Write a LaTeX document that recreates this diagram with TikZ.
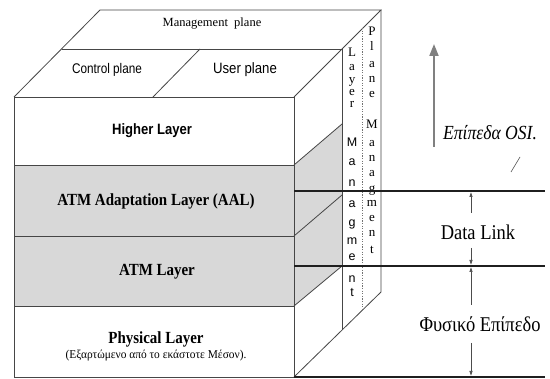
\documentclass[tikz,border=0pt]{standalone}
\usepackage{fontspec}
\usepackage{graphicx}
\setmainfont{Liberation Serif}
\setsansfont{Liberation Sans}
\usetikzlibrary{arrows.meta}

\definecolor{layergray}{RGB}{216,216,216}
\definecolor{edgecol}{RGB}{70,70,70}
\newcommand\squeeze[2]{\scalebox{#1}[1]{#2}}
\newcommand\fs[1]{\fontsize{#1}{#1}\selectfont}

\begin{document}
\begin{tikzpicture}[x=1pt,y=-1pt,
  edge/.style={draw=edgecol,line width=0.8pt},
  osiline/.style={draw=black!88,line width=1.8pt},
  gaparrow/.style={draw=black!70,line width=0.6pt,-{Latex[length=5pt,width=3.5pt]}},
  letter/.style={inner sep=0pt,text height=8pt,text depth=0pt},
  lbl/.style={inner sep=0pt}
]
\useasboundingbox (0,0) rectangle (550,379);
\fill[white] (0,0) rectangle (550,379);

% cube corners
\coordinate (FTL) at (14,97);
\coordinate (FTR) at (294,97);
\coordinate (FBL) at (14,377);
\coordinate (FBR) at (294,377);
\coordinate (BTL) at (100,10);
\coordinate (BTR) at (381,10);
\coordinate (BBR) at (381,292);

% layer boundaries on the front face
\coordinate (A1) at (14,165);  \coordinate (A2) at (294,165);
\coordinate (B1) at (14,236);  \coordinate (B2) at (294,236);
\coordinate (C1) at (14,306);  \coordinate (C2) at (294,306);
% their ends on the side face
\coordinate (A3) at (342,124);
\coordinate (B3) at (342,195);
\coordinate (C3) at (342,266);

% top face division
\coordinate (M1) at (61.5,49);
\coordinate (M2) at (342,49);
\coordinate (D1) at (153,97);
\coordinate (D2) at (200,49);

% layer-management and plane-management separators
\coordinate (L1) at (342,49);
\coordinate (L2) at (342,330);
\coordinate (P1) at (362,28);
\coordinate (P2) at (362,311);

% shaded AAL and ATM slabs
\fill[layergray] (A1) rectangle (C2);
\fill[layergray] (A2) -- (A3) -- (C3) -- (C2) -- cycle;

% front face
\draw[edge] (FTL) rectangle (FBR);
\draw[edge] (A1) -- (A2);
\draw[edge] (B1) -- (B2);
\draw[edge] (C1) -- (C2);

% top face
\draw[edge] (FTL) -- (BTL) -- (BTR) -- (FTR);
\draw[edge] (M1) -- (M2);
\draw[edge] (D1) -- (D2);

% side face
\draw[edge] (BTR) -- (BBR) -- (FBR);
\draw[edge] (L1) -- (L2);
\draw[edge] (A2) -- (A3);
\draw[edge] (B2) -- (B3);
\draw[edge] (C2) -- (C3);
\draw[draw=black!55,line width=0.7pt,dash pattern=on 1.3pt off 1.3pt] (P1) -- (P2);

% plane labels
\node[lbl,font=\fs{12.5}] (mgmt) at (212,24) {Management\ \ plane};
\node[lbl,font=\sffamily\fs{14}] (ctrl) at (107,70) {\squeeze{0.84}{Control plane}};
\node[lbl,font=\sffamily\fs{15}] (user) at (245,70) {\squeeze{0.88}{User plane}};

% layer labels
\node[lbl,font=\sffamily\bfseries\fs{15}] (higher) at (152,131) {\squeeze{0.87}{Higher Layer}};
\node[lbl,font=\bfseries\fs{17}] (aal) at (156,201) {\squeeze{0.88}{ATM Adaptation Layer (AAL)}};
\node[lbl,font=\bfseries\fs{17}] (atm) at (157,272) {\squeeze{0.88}{ATM Layer}};
\node[lbl,font=\bfseries\fs{17}] (phys) at (156,339) {\squeeze{0.88}{Physical Layer}};
\node[lbl,font=\fs{12}] (physnote) at (156,356) {\squeeze{0.95}{(Εξαρτώμενο από το εκάστοτε Μέσον).}};

% vertical "Layer Managment" strip
\foreach \c/\y [count=\i] in {L/53,a/67,y/80,e/92,r/104}
  \node[letter,font=\fs{13}] (lm\i) at (352,\y) {\c};
\foreach \c/\y [count=\i] in {M/143,a/162,n/183,a/204,g/223,m/241,e/257,n/279,t/293}
  \node[letter,font=\sffamily\fs{12.5}] (lmm\i) at (352,\y) {\c};

% vertical "Plane Managment" strip
\foreach \c/\y [count=\i] in {P/32,l/47,a/64,n/79,e/94,M/125,a/143,n/158,a/173,g/189,m/203,e/218,n/233,t/250}
  \node[letter,font=\fs{13}] (pm\i) at (372,\y) {\c};

% OSI layer boundaries
\coordinate (O1a) at (294,191); \coordinate (O1b) at (545,191);
\coordinate (O2a) at (294,266); \coordinate (O2b) at (545,266);
\coordinate (O3a) at (294,377); \coordinate (O3b) at (545,377);
\draw[osiline] (O1a) -- (O1b);
\draw[osiline] (O2a) -- (O2b);
\draw[osiline] (O3a) -- (O3b);

% OSI labels and extent arrows
\node[lbl,font=\fs{21}] (dl) at (478,232) {\squeeze{0.88}{Data Link}};
\node[lbl,font=\fs{21}] (phy) at (480,324) {\squeeze{0.88}{Φυσικό Επίπεδο}};
\coordinate (dlup) at (471,213);
\coordinate (dldn) at (471,248);
\coordinate (phup) at (471,305);
\coordinate (phdn) at (471,343);
\draw[gaparrow] (dlup) -- (471,192);
\draw[gaparrow] (dldn) -- (471,265);
\draw[gaparrow] (phup) -- (471,267);
\draw[gaparrow] (phdn) -- (471,376);

% upward OSI arrow
\coordinate (up0) at (434,147);
\coordinate (up1) at (434,44);
\draw[draw=black!50,line width=2pt,-{Triangle[length=12pt,width=9pt]}] (up0) -- (up1);
\node[lbl,font=\itshape\fs{20}] (osi) at (490,133) {\squeeze{0.88}{Επίπεδα OSI.}};
\coordinate (t0) at (511,172);
\coordinate (t1) at (520,157);
\draw[draw=black!70,line width=0.6pt] (t0) -- (t1);
\end{tikzpicture}
\end{document}
